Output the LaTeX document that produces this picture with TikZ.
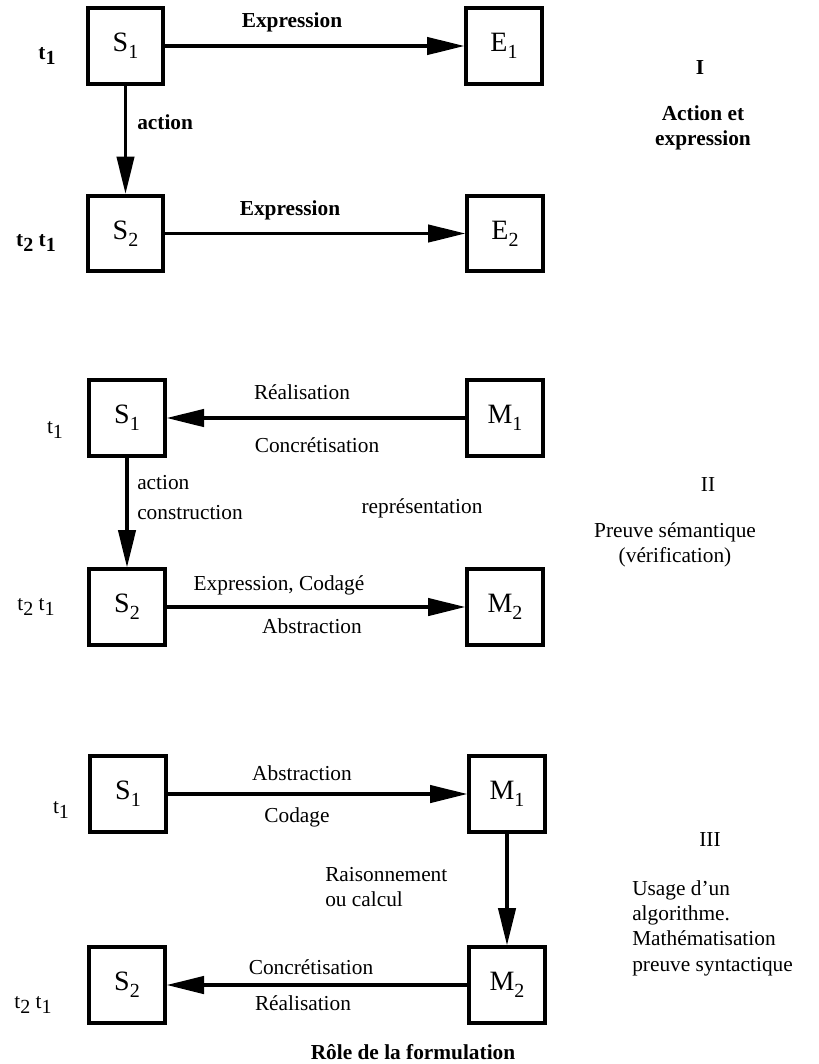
\documentclass[tikz,border=0pt]{standalone}
\usepackage{fontspec}
\setmainfont{Liberation Serif}
\usetikzlibrary{arrows.meta}
\newcommand\mysub[2]{#1\raisebox{-0.55ex}{\fontsize{15}{15}\selectfont #2}}
\tikzset{
  box/.style={draw, line width=3pt, minimum width=56.5pt, minimum height=56.5pt, inner sep=0pt, font=\fontsize{21}{24}\selectfont},
  lab/.style={inner sep=0pt, font=\fontsize{16}{19}\selectfont},
  blab/.style={lab, font=\fontsize{16}{19}\selectfont\bfseries},
  arr/.style={line width=2.6pt, -{Triangle[length=28pt,width=13pt]}}
}
\begin{document}
\begin{tikzpicture}[x=0.75pt,y=-0.75pt]
\useasboundingbox (0,0) rectangle (818,1064);
% ---------- Section I
\node[box] (S1a) at (125.5,46) {\mysub{S}{1}};
\node[box] (E1a) at (504,46) {\mysub{E}{1}};
\node[box] (S2a) at (125.5,233.5) {\mysub{S}{2}};
\node[box] (E2a) at (505,233.5) {\mysub{E}{2}};
\draw[arr] (S1a) -- (E1a);
\draw[arr] (S2a) -- (E2a);
\draw[arr] (S1a) -- (S2a);
\node[blab] (tIa) at (47,56) {\mysub{t}{1}};
\node[blab] (xIa) at (292,22) {Expression};
\node[blab,anchor=west] (acIa) at (137,122) {action};
\node[blab] (tIb) at (36,243) {\mysub{t}{2}\ \mysub{t}{1}};
\node[blab] (xIb) at (290,210) {Expression};
\node[blab] (numI) at (700,68) {I};
\node[blab,align=center] (ttlI) at (703,128) {Action et\\expression};
% ---------- Section II
\node[box] (S1b) at (127,418) {\mysub{S}{1}};
\node[box] (M1b) at (505,418) {\mysub{M}{1}};
\node[box] (S2b) at (127,607) {\mysub{S}{2}};
\node[box] (M2b) at (505,607) {\mysub{M}{2}};
\draw[arr] (M1b) -- (S1b);
\draw[arr] (S1b) -- (S2b);
\draw[arr] (S2b) -- (M2b);
\node[lab] (tIIa) at (55,430) {\mysub{t}{1}};
\node[lab] (reIIa) at (302,392) {Réalisation};
\node[lab] (coIIa) at (317,445) {Concrétisation};
\node[lab,anchor=west] (acIIa) at (137,483) {action};
\node[lab,anchor=west] (cnIIa) at (137,513) {construction};
\node[lab] (rpIIa) at (422,508) {représentation};
\node[lab] (numII) at (708,485) {II};
\node[lab,align=center] (ttlII) at (675,545) {Preuve sémantique\\(vérification)};
\node[lab] (exIIb) at (279,585) {Expression, Codagé};
\node[lab] (abIIb) at (312,626) {Abstraction};
\node[lab] (tIIb) at (36,607) {\mysub{t}{2}\ \mysub{t}{1}};
% ---------- Section III
\node[box] (S1c) at (128,794) {\mysub{S}{1}};
\node[box] (M1c) at (507,794) {\mysub{M}{1}};
\node[box] (S2c) at (127,985) {\mysub{S}{2}};
\node[box] (M2c) at (507,985) {\mysub{M}{2}};
\draw[arr] (S1c) -- (M1c);
\draw[arr] (M1c) -- (M2c);
\draw[arr] (M2c) -- (S2c);
\node[lab] (tIIIa) at (61,810) {\mysub{t}{1}};
\node[lab] (abIIIa) at (302,773) {Abstraction};
\node[lab] (cdIIIa) at (297,817) {Codage};
\node[lab,anchor=west,align=left] (rsIII) at (325,887) {Raisonnement\\ou calcul};
\node[lab] (numIII) at (710,840) {III};
\node[lab,anchor=west,align=left] (ttlIII) at (632,928) {Usage d'un\\algorithme.\\Mathématisation\\preuve syntactique};
\node[lab] (coIIIb) at (311,967) {Concrétisation};
\node[lab] (reIIIb) at (303,1003) {Réalisation};
\node[lab] (tIIIb) at (33,1005) {\mysub{t}{2}\ \mysub{t}{1}};
\node[blab] (role) at (413,1052) {Rôle de la formulation};
\end{tikzpicture}
\end{document}
